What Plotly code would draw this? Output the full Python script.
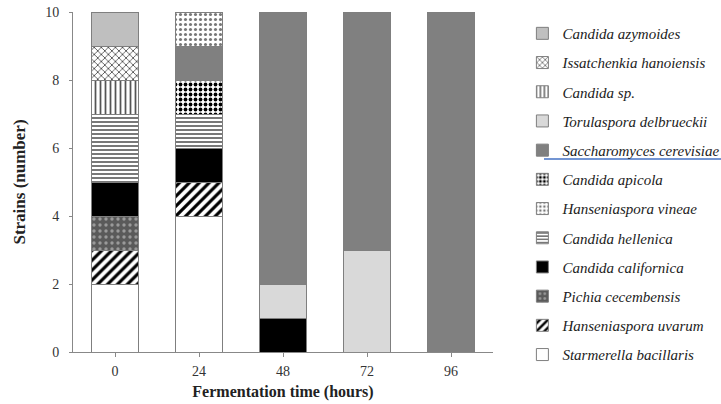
import plotly.graph_objects as go

times = ["0", "24", "48", "72", "96"]

# values per species (strains) at each fermentation time
starmerella_bacillaris = [2, 4, 0, 0, 0]
hanseniaspora_uvarum = [1, 1, 0, 0, 0]
pichia_cecembensis = [1, 0, 0, 0, 0]
candida_californica = [1, 1, 1, 0, 0]
candida_hellenica = [2, 1, 0, 0, 0]
candida_sp = [1, 0, 0, 0, 0]
issatchenkia_hanoiensis = [1, 0, 0, 0, 0]
candida_apicola = [0, 1, 0, 0, 0]
torulaspora_delbrueckii = [0, 0, 1, 3, 0]
saccharomyces_cerevisiae = [0, 1, 8, 7, 10]
hanseniaspora_vineae = [0, 1, 0, 0, 0]
candida_azymoides = [1, 0, 0, 0, 0]

# (name, values, color, pattern shape, fg color, solidity, size, legend rank)
series = [
    ("Starmerella bacillaris", starmerella_bacillaris, "white", "", None, None, None, 12),
    ("Hanseniaspora uvarum", hanseniaspora_uvarum, "white", "/", "black", 0.45, 7, 11),
    ("Pichia cecembensis", pichia_cecembensis, "#5a5a5a", ".", "#9a9a9a", 0.25, 6, 10),
    ("Candida californica", candida_californica, "black", "", None, None, None, 9),
    ("Candida hellenica", candida_hellenica, "white", "-", "#555555", 0.4, 4, 8),
    ("Candida sp.", candida_sp, "white", "|", "#555555", 0.35, 5, 3),
    ("Issatchenkia hanoiensis", issatchenkia_hanoiensis, "white", "x", "#444444", 0.3, 5, 2),
    ("Candida apicola", candida_apicola, "white", ".", "black", 0.45, 5, 6),
    ("Torulaspora delbrueckii", torulaspora_delbrueckii, "#d9d9d9", "", None, None, None, 4),
    ("Saccharomyces cerevisiae", saccharomyces_cerevisiae, "#808080", "", None, None, None, 5),
    ("Hanseniaspora vineae", hanseniaspora_vineae, "white", ".", "#777777", 0.3, 5, 7),
    ("Candida azymoides", candida_azymoides, "#bfbfbf", "", None, None, None, 1),
]

fig = go.Figure()
for name, vals, color, shape, fg, sol, size, rank in series:
    marker = dict(color=color, line=dict(color="#7f7f7f", width=1))
    if shape:
        marker["pattern"] = dict(shape=shape, fgcolor=fg, bgcolor=color,
                                 solidity=sol, size=size, fillmode="replace")
    fig.add_trace(go.Bar(
        x=times, y=vals, name=name, marker=marker,
        legendrank=rank, legendgroup=name,
    ))

fig.update_layout(
    barmode="stack",
    bargap=0.44,
    width=721, height=404,
    margin=dict(l=73, r=228, t=12, b=52, autoexpand=False),
    plot_bgcolor="white", paper_bgcolor="white",
    font=dict(family="Liberation Serif", size=14, color="#222"),
    showlegend=True,
    legend=dict(
        x=1.07, y=0.985, xanchor="left", yanchor="top",
        traceorder="grouped", tracegroupgap=6.7,
        bgcolor="rgba(0,0,0,0)",
        font=dict(family="Liberation Serif", size=15, style="italic", color="#222"),
        itemwidth=30, maxheight=400,
    ),
    xaxis=dict(
        showline=True, linecolor="#888", linewidth=1,
        ticks="outside", ticklen=4, tickcolor="#888", ticklabelstandoff=2,
        tickfont=dict(color="#333", size=14),
        title=dict(text="<b>Fermentation time (hours)</b>", font=dict(size=16), standoff=8),
    ),
    yaxis=dict(
        range=[0, 10], tickvals=[0, 2, 4, 6, 8, 10],
        showline=True, linecolor="#888", linewidth=1,
        ticks="outside", ticklen=3, tickcolor="#888", ticklabelstandoff=7,
        tickfont=dict(color="#333", size=14),
        showgrid=False, zeroline=False,
        title=dict(text="<b>Strains (number)</b>", font=dict(size=17), standoff=15),
    ),
    shapes=[dict(type="line", xref="paper", yref="paper", layer="above",
                 x0=(544 - 73) / 420, x1=(721 - 73) / 420,
                 y0=(352 - 159) / 340, y1=(352 - 159) / 340,
                 line=dict(color="#4472c4", width=1.5))],
)

fig.write_html("out.html", config={"displayModeBar": False},
               post_script="document.body.style.margin='0px';")
